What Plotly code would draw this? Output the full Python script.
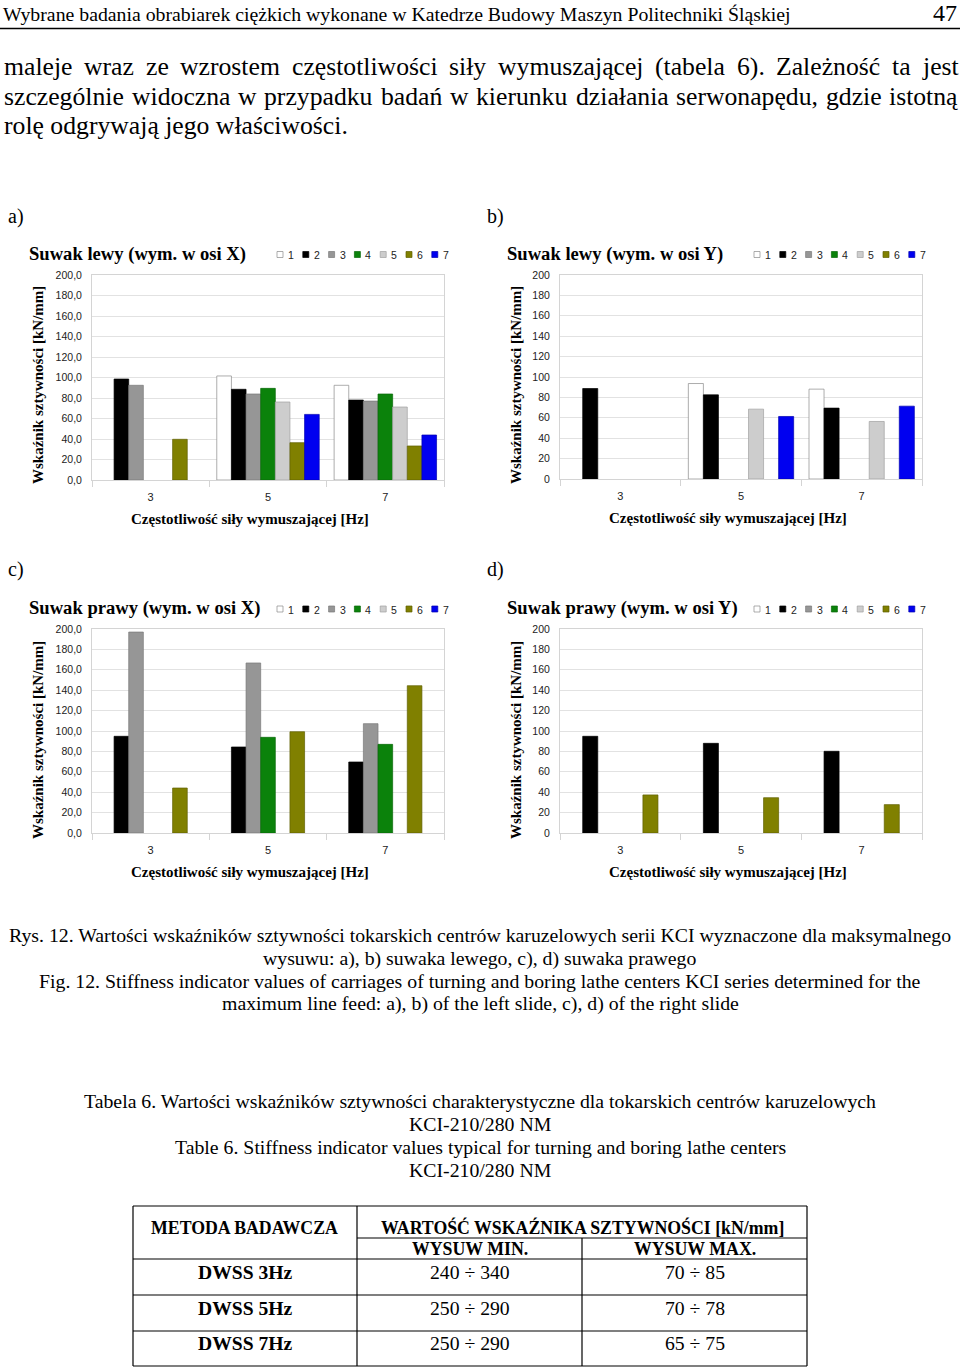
import plotly.graph_objects as go

# ---------------- data ----------------
CATEGORIES = ["3", "5", "7"]
SERIES = ["1", "2", "3", "4", "5", "6", "7"]
COLORS = ["#ffffff", "#000000", "#969696", "#0b820b", "#cdcdcd", "#808000", "#0000f0"]
EDGES = ["#8a8a8a", "#000000", "#7a7a7a", "#086808", "#a0a0a0", "#606000", "#0000b0"]

# a) Suwak lewy (wym. w osi X) - one list per series 1..7, values for 3/5/7 Hz
LEFT_X_S1 = [None, 101.5, 92.4]
LEFT_X_S2 = [98.5, 88.5, 78.0]
LEFT_X_S3 = [92.4, 83.9, 77.0]
LEFT_X_S4 = [None, 89.4, 83.9]
LEFT_X_S5 = [None, 76.1, 71.2]
LEFT_X_S6 = [39.7, 36.4, 33.2]
LEFT_X_S7 = [None, 64.0, 43.9]

# b) Suwak lewy (wym. w osi Y)
LEFT_Y_S1 = [None, 93.6, 88.1]
LEFT_Y_S2 = [88.7, 82.5, 69.5]
LEFT_Y_S3 = [None, None, None]
LEFT_Y_S4 = [None, None, None]
LEFT_Y_S5 = [None, 68.5, 56.4]
LEFT_Y_S6 = [None, None, None]
LEFT_Y_S7 = [None, 61.3, 71.4]

# c) Suwak prawy (wym. w osi X)
RIGHT_X_S1 = [None, None, None]
RIGHT_X_S2 = [94.8, 84.3, 69.6]
RIGHT_X_S3 = [197.0, 166.7, 107.2]
RIGHT_X_S4 = [None, 93.8, 86.9]
RIGHT_X_S5 = [None, None, None]
RIGHT_X_S6 = [44.1, 99.3, 144.4]
RIGHT_X_S7 = [None, None, None]

# d) Suwak prawy (wym. w osi Y)
RIGHT_Y_S1 = [None, None, None]
RIGHT_Y_S2 = [94.8, 87.9, 80.1]
RIGHT_Y_S3 = [None, None, None]
RIGHT_Y_S4 = [None, None, None]
RIGHT_Y_S5 = [None, None, None]
RIGHT_Y_S6 = [37.3, 34.6, 27.8]
RIGHT_Y_S7 = [None, None, None]

TITLES = ["Suwak lewy (wym. w osi X)", "Suwak lewy (wym. w osi Y)",
          "Suwak prawy (wym. w osi X)", "Suwak prawy (wym. w osi Y)"]
LETTERS = ["a)", "b)", "c)", "d)"]
Y_TITLE = "Wskaźnik sztywności [kN/mm]"
X_TITLE = "Częstotliwość siły wymuszającej [Hz]"

HEADER = "Wybrane badania obrabiarek ciężkich wykonane w Katedrze Budowy Maszyn Politechniki Śląskiej"
PAGE_NO = "47"
PARA_LINE1 = ["maleje", "wraz", "ze", "wzrostem", "częstotliwości", "siły", "wymuszającej",
              "(tabela", "6).", "Zależność", "ta", "jest"]
PARA_LINE2 = ["szczególnie", "widoczna", "w", "przypadku", "badań", "w", "kierunku",
              "działania", "serwonapędu,", "gdzie", "istotną"]
PARA_LINE3 = "rolę odgrywają jego właściwości."

CAPTION = ["Rys. 12. Wartości wskaźników sztywności tokarskich centrów karuzelowych serii KCI wyznaczone dla maksymalnego",
           "wysuwu: a), b) suwaka lewego, c), d) suwaka prawego",
           "Fig. 12. Stiffness indicator values of carriages of turning and boring lathe centers KCI series determined for the",
           "maximum line feed: a), b) of the left slide, c), d) of the right slide"]
TABLE_CAPTION = ["Tabela 6. Wartości wskaźników sztywności charakterystyczne dla tokarskich centrów karuzelowych",
                 "KCI-210/280 NM",
                 "Table 6. Stiffness indicator values typical for turning and boring lathe centers",
                 "KCI-210/280 NM"]
TABLE_HEAD = ["METODA BADAWCZA", "WARTOŚĆ WSKAŹNIKA SZTYWNOŚCI [kN/mm]", "WYSUW MIN.", "WYSUW MAX."]
TABLE_METHODS = ["DWSS 3Hz", "DWSS 5Hz", "DWSS 7Hz"]
TABLE_MIN = ["240 ÷ 340", "250 ÷ 290", "250 ÷ 290"]
TABLE_MAX = ["70 ÷ 85", "70 ÷ 78", "65 ÷ 75"]

# ---------------- layout helpers ----------------
W, H = 960, 1371
SERIF = "Liberation Serif"
SANS = "Liberation Sans"


def px(x):
    return x / W


def py(y):
    return 1 - y / H


fig = go.Figure()
annotations = []
shapes = []


def text(x, y, s, size, bold=False, xanchor="left", family=SERIF, angle=0, color="#000"):
    annotations.append(dict(
        x=px(x), y=py(y), xref="paper", yref="paper", text=("<b>%s</b>" % s) if bold else s,
        showarrow=False, xanchor=xanchor, yanchor="middle", textangle=angle,
        font=dict(family=family, size=size, color=color), borderpad=0))


def line(x0, y0, x1, y1, w=1.2, color="#000"):
    shapes.append(dict(type="line", xref="paper", yref="paper",
                       x0=px(x0), y0=py(y0), x1=px(x1), y1=py(y1),
                       line=dict(color=color, width=w)))


# ---------------- page header & paragraph ----------------
text(2, 14, HEADER, 19.8)
text(958, 13, PAGE_NO, 24, xanchor="right")
line(0, 28.5, 960, 28.5, w=1.6)

PARA_SIZE = 25.7
L1_X = [3, 83.2, 144.8, 179.3, 290.8, 448.1, 496.9, 654.1, 735.7, 775.2, 891.0, 921.3]
L2_X = [3, 130.7, 237.0, 263.4, 379.7, 448.9, 475.3, 574.5, 675.1, 824.9, 888.4]
for w_, x_ in zip(PARA_LINE1, L1_X):
    text(x_, 66, w_, PARA_SIZE)
for w_, x_ in zip(PARA_LINE2, L2_X):
    text(x_, 96, w_, PARA_SIZE)
text(3, 126, PARA_LINE3, PARA_SIZE)

# ---------------- charts ----------------
PANELS = [
    dict(data=[LEFT_X_S1, LEFT_X_S2, LEFT_X_S3, LEFT_X_S4, LEFT_X_S5, LEFT_X_S6, LEFT_X_S7],
         fmt=".1f", px0=92, px1=444, py0=275, py1=480, letter=(7, 216), title=(28, 254),
         leg=(277, 254.5), ytit=(38, 385), xtit=(250, 519)),
    dict(data=[LEFT_Y_S1, LEFT_Y_S2, LEFT_Y_S3, LEFT_Y_S4, LEFT_Y_S5, LEFT_Y_S6, LEFT_Y_S7],
         fmt="d", px0=560, px1=922, py0=275, py1=479, letter=(486, 216), title=(506, 254),
         leg=(754, 254.5), ytit=(516, 385), xtit=(728, 518)),
    dict(data=[RIGHT_X_S1, RIGHT_X_S2, RIGHT_X_S3, RIGHT_X_S4, RIGHT_X_S5, RIGHT_X_S6, RIGHT_X_S7],
         fmt=".1f", px0=92, px1=444, py0=629, py1=833, letter=(7, 570), title=(28, 608),
         leg=(277, 609), ytit=(38, 740), xtit=(250, 872)),
    dict(data=[RIGHT_Y_S1, RIGHT_Y_S2, RIGHT_Y_S3, RIGHT_Y_S4, RIGHT_Y_S5, RIGHT_Y_S6, RIGHT_Y_S7],
         fmt="d", px0=560, px1=922, py0=629, py1=833, letter=(486, 570), title=(506, 608),
         leg=(754, 609), ytit=(516, 740), xtit=(728, 872)),
]

layout_axes = {}
for i, p in enumerate(PANELS):
    n = "" if i == 0 else str(i + 1)
    xa, ya = "x" + n, "y" + n
    for k, vals in enumerate(p["data"]):
        fig.add_trace(go.Bar(
            x=CATEGORIES, y=vals, name=SERIES[k], xaxis=xa, yaxis=ya, showlegend=False,
            marker=dict(color=COLORS[k], line=dict(color=EDGES[k], width=0.7))))
    layout_axes["xaxis" + n] = dict(
        domain=[px(p["px0"]), px(p["px1"])], anchor=ya, type="category",
        categoryorder="array", categoryarray=CATEGORIES, automargin=False,
        tickson="boundaries", ticks="outside", ticklen=6, tickcolor="#d4d4d4",
        ticklabelstandoff=7,
        showline=True, linecolor="#d4d4d4", linewidth=1, mirror=True, showgrid=False,
        zeroline=False,
        tickfont=dict(family=SANS, size=11, color="#222"), fixedrange=True)
    layout_axes["yaxis" + n] = dict(
        domain=[py(p["py1"]), py(p["py0"])], anchor=xa, range=[0, 200], dtick=20,
        tickformat=p["fmt"], showgrid=True, gridcolor="#e2e2e2", gridwidth=1,
        showline=True, linecolor="#d4d4d4", mirror=True, zeroline=False, automargin=False,
        ticks="", ticklabelstandoff=7,
        tickfont=dict(family=SANS, size=10.5, color="#222"), fixedrange=True)

    text(p["letter"][0], p["letter"][1], LETTERS[i], 20)
    text(p["title"][0], p["title"][1], TITLES[i], 18.6, bold=True)
    lx, ly = p["leg"]
    for k in range(7):
        sx = lx + k * 25.8
        shapes.append(dict(type="rect", xref="paper", yref="paper",
                           x0=px(sx), x1=px(sx + 6), y0=py(ly + 3), y1=py(ly - 3),
                           fillcolor=COLORS[k], line=dict(color=EDGES[k], width=0.7)))
        text(sx + 10, ly + 0.5, SERIES[k], 10.5, family=SANS, color="#222")
    text(p["ytit"][0], p["ytit"][1], Y_TITLE, 15, bold=True, xanchor="center", angle=-90)
    text(p["xtit"][0], p["xtit"][1], X_TITLE, 15, bold=True, xanchor="center")

# ---------------- captions ----------------
for s, y in zip(CAPTION, [935, 958, 981, 1003]):
    text(480, y, s, 19.8, xanchor="center")
for s, y in zip(TABLE_CAPTION, [1101, 1124, 1147, 1170]):
    text(480, y, s, 19.8, xanchor="center")

# ---------------- table ----------------
TX0, TX1, TX2, TX3 = 133, 357, 582, 807
TY = [1206, 1238, 1259, 1295, 1331, 1366]
line(TX0, TY[0], TX3, TY[0])
line(TX0, TY[5], TX3, TY[5])
line(TX0, TY[0], TX0, TY[5])
line(TX3, TY[0], TX3, TY[5])
line(TX1, TY[0], TX1, TY[5])
line(TX2, TY[1], TX2, TY[5])
line(TX1, TY[1], TX3, TY[1])
for yy in TY[2:5]:
    line(TX0, yy, TX3, yy)

text((TX0 + TX1) / 2, 1228, TABLE_HEAD[0], 17.8, bold=True, xanchor="center")
text((TX1 + TX3) / 2, 1227, TABLE_HEAD[1], 17.8, bold=True, xanchor="center")
text((TX1 + TX2) / 2, 1249, TABLE_HEAD[2], 17.8, bold=True, xanchor="center")
text((TX2 + TX3) / 2, 1249, TABLE_HEAD[3], 17.8, bold=True, xanchor="center")
for m, a, b, y in zip(TABLE_METHODS, TABLE_MIN, TABLE_MAX, [1272, 1308, 1343]):
    text((TX0 + TX1) / 2, y, m, 19.6, bold=True, xanchor="center")
    text((TX1 + TX2) / 2, y, a, 19.7, xanchor="center")
    text((TX2 + TX3) / 2, y, b, 19.7, xanchor="center")

fig.update_layout(
    template="none",
    width=W, height=H, margin=dict(l=0, r=0, t=0, b=0, pad=0, autoexpand=False),
    paper_bgcolor="white", plot_bgcolor="white",
    barmode="group", bargap=0.127, bargroupgap=0,
    separators=", ", showlegend=False,
    annotations=annotations, shapes=shapes, **layout_axes)

fig.write_html("out.html", config={"displayModeBar": False},
               post_script="document.body.style.margin='0';")
